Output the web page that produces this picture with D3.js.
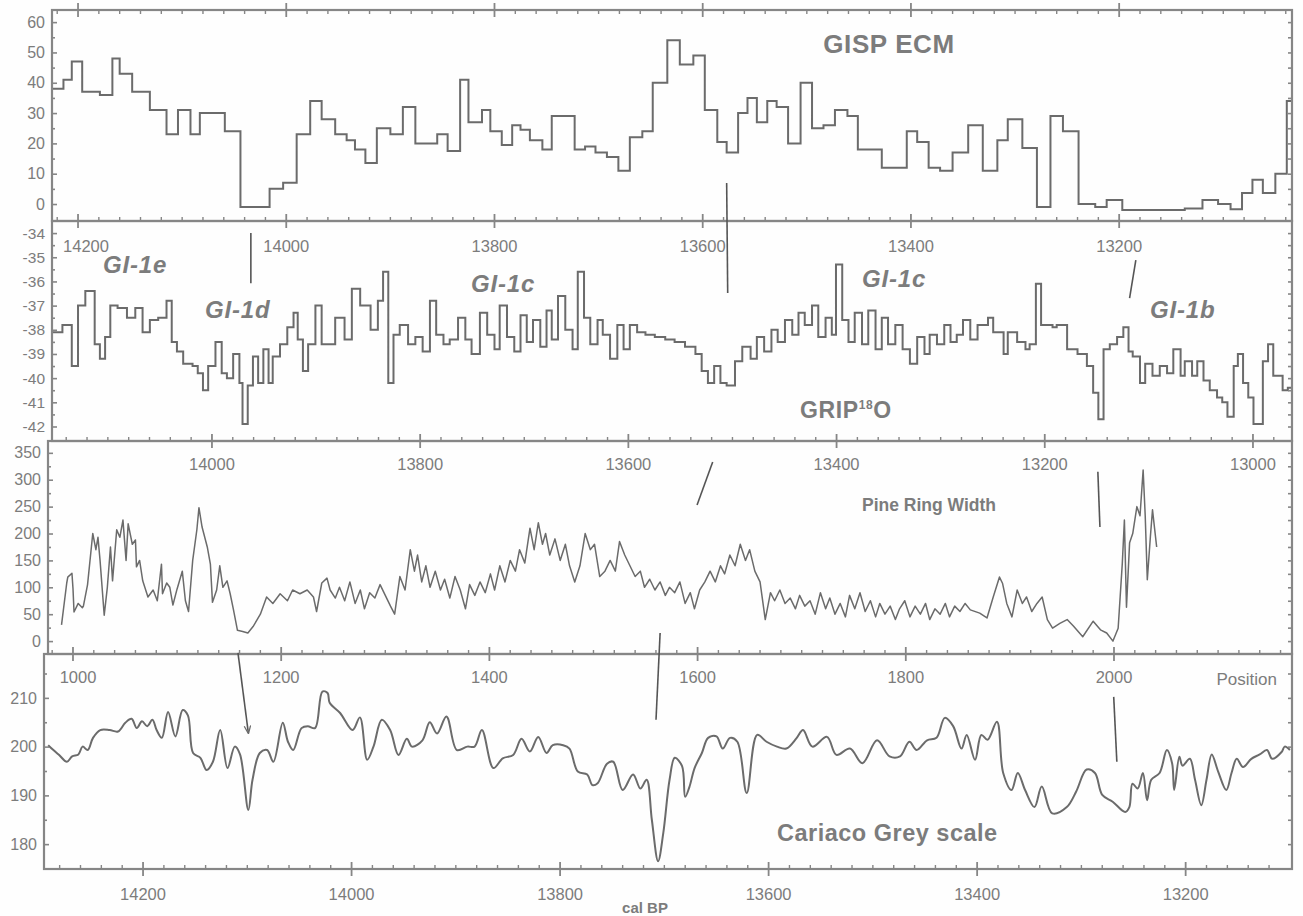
<!DOCTYPE html>
<html><head><meta charset="utf-8">
<script src="https://cdn.jsdelivr.net/npm/d3@7"></script>
<style>body{margin:0;background:#fff}svg{display:block}</style>
</head><body>
<svg id="c" width="1303" height="916"></svg>
<script>
// ---------------- DATA ----------------
// GISP ECM (step starts: cal BP year, value)
const ecmSteps = [[14225,38],[14214,41],[14206,47],[14196,37],[14179,36],[14167,48],[14160,43],[14148,37],[14131,31],[14115,23],[14104,31],[14092,23],[14083,30],[14059,24],[14044,-1],[14016,5],[14003,7],[13990,23],[13977,34],[13966,28],[13953,23],[13942,21],[13934,18],[13924,13.5],[13913,25],[13900,23],[13888,32],[13876,20],[13855,23],[13845,17.5],[13833,41],[13825,27],[13812,31],[13804,24],[13793,19.5],[13783,26],[13775,24.5],[13766,21],[13754,18],[13745,29],[13723,18],[13713,19],[13703,17],[13692,15.5],[13681,11],[13670,22],[13658,24],[13648,40],[13634,54],[13622,46],[13609,49],[13598,31],[13586,20.5],[13577,17],[13566,30],[13557,35],[13548,27],[13538,34],[13529,32],[13518,20],[13506,40],[13495,25],[13484,26],[13473,31],[13461,29],[13451,18],[13428,12],[13404,24],[13394,20.5],[13383,12],[13372,11],[13360,17],[13345,26],[13331,11],[13317,21],[13307,28],[13293,18.5],[13279,-1],[13266,29],[13254,24],[13239,0],[13223,-1],[13212,1.3],[13197,-2],[13137,-1.5],[13120,1.3],[13105,0],[13093,-1.7],[13082,3.6],[13072,8],[13062,3.6],[13050,10],[13039,34]];
// GRIP d18O (step starts: cal BP year, permil)
const gripSteps = [[14225,-38.1],[14215,-37.8],[14206,-39.5],[14200,-37],[14193,-36.4],[14184,-38.6],[14179,-39.2],[14174,-38.3],[14169,-37],[14162,-37.1],[14153,-37.5],[14145,-37.1],[14138,-38.1],[14131,-37.6],[14123,-37.5],[14115,-36.8],[14110,-38.5],[14105,-38.9],[14099,-39.4],[14090,-39.5],[14085,-39.8],[14080,-40.5],[14075,-39.5],[14068,-38.5],[14062,-39.8],[14057,-40],[14051,-39],[14045,-40.2],[14042,-41.9],[14037,-40.3],[14032,-39.1],[14027,-40.2],[14022,-38.8],[14017,-40.2],[14013,-39.1],[14006,-38.6],[13999,-37.9],[13993,-37.3],[13989,-38.4],[13984,-39.7],[13979,-38.6],[13972,-37],[13966,-38.6],[13953,-37.5],[13944,-38.4],[13937,-36.3],[13929,-37],[13919,-38],[13912,-36.8],[13907,-35.6],[13902,-40.2],[13897,-38.2],[13891,-37.8],[13883,-38.6],[13876,-38.3],[13869,-38.9],[13862,-36.8],[13856,-38.2],[13849,-38.6],[13843,-38.4],[13835,-37.5],[13828,-38.4],[13822,-39],[13814,-37.3],[13807,-38.2],[13800,-38.8],[13795,-37],[13788,-38.3],[13781,-38.9],[13775,-37.4],[13769,-38.5],[13763,-37.6],[13756,-38.7],[13750,-37.2],[13745,-38.4],[13739,-36.6],[13732,-38],[13725,-38.8],[13720,-35.6],[13714,-37.5],[13708,-38.6],[13701,-37.6],[13696,-38.2],[13689,-39.2],[13682,-37.8],[13676,-38.8],[13670,-37.8],[13663,-38.1],[13655,-38.2],[13646,-38.3],[13636,-38.4],[13627,-38.5],[13617,-38.7],[13607,-39],[13601,-39.7],[13595,-40.2],[13589,-39.5],[13583,-40.2],[13577,-40.3],[13569,-39.3],[13562,-38.7],[13554,-39.2],[13548,-38.3],[13541,-38.9],[13534,-38],[13528,-38.5],[13521,-37.6],[13514,-38.2],[13508,-37.3],[13502,-37.8],[13495,-37],[13489,-38.3],[13482,-37.5],[13476,-38.2],[13472,-35.3],[13466,-37.6],[13460,-38.5],[13454,-37.3],[13447,-38.6],[13441,-37.2],[13434,-38.8],[13428,-37.5],[13422,-38.6],[13415,-37.8],[13408,-38.8],[13401,-39.4],[13394,-38.3],[13387,-39],[13382,-38.2],[13375,-38.6],[13368,-37.8],[13362,-38.5],[13356,-38.2],[13350,-37.6],[13343,-38.4],[13336,-37.8],[13326,-37.5],[13321,-38.1],[13311,-39],[13307,-38.1],[13298,-38.5],[13290,-38.8],[13286,-38.6],[13280,-36.1],[13275,-37.8],[13264,-37.9],[13260,-37.8],[13250,-38.8],[13240,-39],[13231,-39.5],[13225,-40.6],[13220,-41.7],[13215,-38.8],[13209,-38.6],[13202,-38.3],[13196,-37.9],[13191,-38.9],[13187,-39.1],[13180,-40.2],[13175,-39.4],[13168,-39.9],[13161,-39.5],[13154,-39.8],[13148,-38.8],[13141,-39.9],[13137,-39.3],[13130,-39.9],[13125,-39.3],[13119,-40.1],[13113,-40.5],[13106,-40.8],[13101,-41],[13096,-41.6],[13090,-39.5],[13086,-39],[13081,-40.2],[13076,-40.8],[13071,-41.9],[13062,-39.3],[13057,-38.6],[13052,-39.9],[13043,-40.5],[13038,-40.4]];
// Pine ring width (position, width)
const pineRing = [[989,30],[994,108],[995,119],[999,126],[1000,98],[1001,54],[1005,70],[1009,62],[1010,65],[1014,105],[1019,200],[1022,170],[1024,193],[1026,150],[1030,48],[1033,100],[1036,175],[1038,112],[1042,207],[1045,193],[1048,225],[1051,150],[1053,218],[1057,180],[1060,188],[1061,138],[1064,150],[1067,112],[1072,82],[1077,95],[1081,75],[1085,143],[1086,88],[1090,108],[1093,100],[1096,67],[1100,97],[1105,130],[1108,75],[1111,55],[1115,150],[1119,207],[1121,248],[1124,212],[1129,175],[1132,143],[1134,72],[1138,95],[1141,140],[1144,100],[1148,112],[1151,88],[1154,60],[1158,20],[1163,18],[1168,15],[1173,27],[1180,50],[1186,82],[1192,70],[1199,88],[1206,75],[1211,95],[1218,88],[1225,95],[1231,82],[1234,55],[1239,108],[1244,117],[1247,95],[1252,80],[1256,100],[1261,75],[1266,110],[1271,70],[1276,95],[1280,60],[1285,90],[1290,80],[1295,105],[1300,85],[1305,65],[1309,50],[1314,120],[1319,95],[1324,170],[1328,130],[1331,160],[1335,110],[1339,140],[1343,100],[1348,130],[1353,95],[1357,115],[1362,80],[1367,120],[1372,95],[1377,60],[1381,105],[1386,85],[1391,110],[1396,90],[1401,125],[1405,95],[1410,140],[1415,110],[1420,150],[1425,130],[1429,170],[1434,145],[1439,210],[1443,170],[1447,220],[1451,180],[1454,200],[1458,160],[1463,190],[1468,150],[1473,180],[1477,140],[1482,110],[1487,140],[1492,200],[1497,170],[1501,180],[1506,120],[1511,130],[1516,150],[1521,130],[1525,185],[1530,160],[1535,140],[1540,120],[1545,130],[1549,100],[1554,115],[1559,95],[1564,110],[1569,85],[1573,100],[1578,90],[1583,110],[1588,70],[1593,90],[1597,60],[1602,95],[1607,110],[1612,130],[1617,110],[1622,140],[1626,125],[1631,160],[1636,140],[1641,180],[1646,150],[1650,170],[1655,130],[1660,110],[1665,40],[1670,90],[1674,75],[1679,95],[1684,70],[1689,80],[1694,60],[1698,85],[1703,65],[1708,75],[1713,50],[1718,90],[1723,60],[1727,80],[1732,50],[1737,70],[1742,45],[1746,85],[1751,60],[1756,90],[1761,55],[1766,75],[1771,45],[1775,70],[1780,50],[1785,65],[1790,40],[1794,60],[1799,75],[1804,45],[1809,65],[1814,50],[1819,70],[1823,40],[1828,60],[1833,50],[1838,70],[1842,45],[1847,65],[1852,55],[1857,70],[1862,58],[1871,52],[1878,43],[1884,82],[1890,119],[1893,107],[1897,70],[1902,45],[1907,95],[1912,70],[1916,82],[1921,55],[1926,70],[1931,82],[1936,40],[1941,24],[1948,33],[1955,40],[1961,28],[1970,8],[1980,37],[1987,21],[1993,15],[1999,0],[2004,24],[2008,145],[2010,225],[2012,63],[2015,183],[2018,200],[2022,250],[2025,233],[2028,318],[2030,233],[2032,114],[2035,195],[2037,244],[2041,175]];
// Cariaco grey scale (cal BP year, grey)
const cariacoGrey = [[14291,200.3],[14286,199.3],[14281,198.4],[14273,196.9],[14268,198],[14262,198.4],[14258,200],[14253,199.3],[14248,201.8],[14241,203.4],[14232,203.4],[14224,203.1],[14217,204.9],[14211,205.7],[14206,203.8],[14201,205.2],[14196,204.2],[14191,205.5],[14187,203.4],[14182,201.8],[14176,207.1],[14169,202.1],[14162,207.5],[14157,206.4],[14152,198.7],[14145,197.7],[14139,195.2],[14133,196.9],[14126,203.4],[14119,195.6],[14112,200],[14107,198.4],[14099,187],[14095,193.2],[14088,198.7],[14081,199.3],[14075,196.9],[14066,204.9],[14061,201],[14056,199.3],[14048,203.8],[14042,204.2],[14035,203.8],[14028,211.3],[14023,211],[14021,209],[14011,206.9],[13999,203.4],[13992,206],[13985,197.3],[13979,200],[13971,205.5],[13963,203.4],[13955,198.3],[13947,201.6],[13942,200],[13932,201.3],[13925,205],[13918,202.7],[13909,206.2],[13899,199.3],[13889,200],[13882,200],[13875,203.4],[13864,195.6],[13855,197.6],[13845,198.3],[13837,201.6],[13829,199],[13821,202],[13813,198.7],[13807,200.3],[13797,200.3],[13791,199.6],[13783,194.9],[13774,194.3],[13769,192.1],[13764,192.5],[13755,196.5],[13749,196.9],[13740,191.1],[13730,194.3],[13723,191.4],[13717,193.2],[13712,185],[13706,176.5],[13701,182.3],[13695,193.2],[13690,197.7],[13683,196],[13680,189.7],[13676,191.7],[13671,195.6],[13664,198.7],[13658,201.8],[13650,202.1],[13644,199.6],[13637,201.8],[13630,201],[13621,190.5],[13611,202.4],[13602,201],[13592,200],[13583,199.6],[13573,201.8],[13567,203.4],[13558,200],[13544,202],[13535,198.3],[13522,199.6],[13510,196.6],[13496,201.3],[13484,198],[13474,198],[13465,201],[13458,199.3],[13448,201.3],[13439,201.8],[13431,205.9],[13423,204.2],[13415,199.6],[13410,202.4],[13402,197.3],[13396,202.4],[13390,201.4],[13381,205.1],[13375,194.6],[13367,191.1],[13361,194.6],[13354,191.1],[13345,187.6],[13338,191.8],[13328,186.3],[13314,187.6],[13305,190.8],[13295,195.3],[13287,194.6],[13280,190.1],[13270,188.7],[13258,186.6],[13254,187.6],[13251,192.4],[13246,191.4],[13241,194.6],[13237,189],[13233,193.2],[13225,194.6],[13218,199.3],[13213,196.6],[13211,191.1],[13206,197.9],[13203,196.1],[13196,197.5],[13191,193.2],[13185,188],[13180,193.2],[13175,198.4],[13169,195],[13161,191.1],[13156,194.6],[13151,197.5],[13145,195.8],[13137,197.5],[13129,198.4],[13122,199.3],[13117,197.5],[13108,198.9],[13105,200],[13100,199.3]];

// tick values
const ecmTicks = [0,10,20,30,40,50,60];
const gripTicks = [-42,-41,-40,-39,-38,-37,-36,-35,-34];
const pineTicks = [0,50,100,150,200,250,300,350];
const greyTicks = [180,190,200,210];
const calLabels12 = [14200,14000,13800,13600,13400,13200];
const calLabels3 = [14000,13800,13600,13400,13200,13000];
const posLabels = [1000,1200,1400,1600,1800,2000];
const calLabels4 = [14200,14000,13800,13600,13400,13200];

// annotation lines: [scale key, x value, y value]
const annotations = [
  {a:["p2",14034,-34.0], b:["p2",14034,-36.07]},
  {a:["p1",13577,6.9], b:["p2",13576,-36.48]},
  {a:["p2",13184,-35.12], b:["p2",13190,-36.69]},
  {a:["p3c",13519,333], b:["p3c",13534,253]},
  {a:["p3c",13149,315], b:["p3c",13147,212]},
  {a:["p3p",1158.5,-22], b:["p4",14099,202.8], arrow:true},
  {a:["p3p",1564,15], b:["p4",13708,205.5]},
  {a:["p4",13269,210.2], b:["p4",13266,196.9]}
];

// ---------------- LAYOUT ----------------
const INK = "#6b6b6b", FRAME = "#868686", TXT = "#7c7c7c";
const FONT = "'Liberation Sans', Arial, sans-serif";
const svg = d3.select("#c");
svg.append("rect").attr("width",1303).attr("height",916).attr("fill","#fefefe");

const P1 = {l:52, r:1292, t:10, b:221};
const P2 = {l:52, r:1292, t:221, b:441};
const P3 = {l:48, r:1292, t:441, b:654};
const P4 = {l:44, r:1292, t:654, b:869};

const x12 = d3.scaleLinear().domain([14225,13034]).range([P1.l,P1.r]);
const y1 = d3.scaleLinear().domain([-5.6,64]).range([P1.b,P1.t]);
const y2 = d3.scaleLinear().domain([-42.6,-33.5]).range([P2.b,P2.t]);
const x3c = d3.scaleLinear().domain([14157.5,12962.5]).range([P3.l,P3.r]);
const x3p = d3.scaleLinear().domain([976,2171]).range([P3.l,P3.r]);
const y3 = d3.scaleLinear().domain([-24,372]).range([P3.b,P3.t]);
const x4 = d3.scaleLinear().domain([14295,13098]).range([P4.l,P4.r]);
const y4 = d3.scaleLinear().domain([174.9,219]).range([P4.b,P4.t]);

const S = {p1:[x12,y1], p2:[x12,y2], p3c:[x3c,y3], p3p:[x3p,y3], p4:[x4,y4]};

const defs = svg.append("defs");
[P1,P2,P3,P4].forEach((p,i)=>{
  defs.append("clipPath").attr("id","clip"+i).append("rect")
    .attr("x",p.l+1).attr("y",p.t+1).attr("width",p.r-p.l-2).attr("height",p.b-p.t-2);
});
defs.append("marker").attr("id","arr").attr("viewBox","0 0 10 10").attr("refX",9).attr("refY",5)
  .attr("markerWidth",5).attr("markerHeight",5).attr("orient","auto")
  .append("path").attr("d","M0,1L10,5L0,9").attr("fill","none").attr("stroke",INK).attr("stroke-width",1.6);

// ---------------- DATA LINES ----------------
function stepLine(steps, endX, xs, ys, clip){
  const pts = steps.concat([[endX, steps[steps.length-1][1]]]);
  svg.append("path").datum(pts)
    .attr("clip-path","url(#clip"+clip+")")
    .attr("d", d3.line().x(d=>xs(d[0])).y(d=>ys(d[1])).curve(d3.curveStepAfter))
    .attr("fill","none").attr("stroke",INK).attr("stroke-width",2).attr("stroke-linejoin","miter");
}
stepLine(ecmSteps, 13030, x12, y1, 0);
stepLine(gripSteps, 13030, x12, y2, 1);

svg.append("path").datum(pineRing).attr("clip-path","url(#clip2)")
  .attr("d", d3.line().x(d=>x3p(d[0])).y(d=>y3(d[1])))
  .attr("fill","none").attr("stroke",INK).attr("stroke-width",1.5).attr("stroke-linejoin","round");

svg.append("path").datum(cariacoGrey).attr("clip-path","url(#clip3)")
  .attr("d", d3.line().x(d=>x4(d[0])).y(d=>y4(d[1])).curve(d3.curveCatmullRom.alpha(0.5)))
  .attr("fill","none").attr("stroke",INK).attr("stroke-width",2).attr("stroke-linejoin","round");

// ---------------- FRAMES & AXES ----------------
[P1,P2,P3,P4].forEach(p=>{
  svg.append("rect").attr("x",p.l).attr("y",p.t).attr("width",p.r-p.l).attr("height",p.b-p.t)
    .attr("fill","none").attr("stroke",FRAME).attr("stroke-width",2.2);
});

function xTickRow(scale, y, dir, pl, pr){
  const [a,b] = scale.domain(); const lo=Math.min(a,b), hi=Math.max(a,b);
  const vals = d3.range(Math.ceil(lo/20)*20, hi, 20).filter(v=>{const px=scale(v);return px>pl+3&&px<pr-3;});
  svg.append("g").selectAll("line").data(vals).join("line")
    .attr("x1",d=>scale(d)).attr("x2",d=>scale(d))
    .attr("y1",d=> d%200===0 ? y-7 : y)
    .attr("y2",d=> d%200===0 ? y+7 : y+dir*4)
    .attr("stroke",FRAME).attr("stroke-width",d=> d%200===0 ? 1.8 : 1.4);
}
xTickRow(x12, P1.t, 1, P1.l, P1.r);
xTickRow(x12, P1.b, -1, P1.l, P1.r);
xTickRow(x3c, P2.b, -1, P3.l, P3.r);
xTickRow(x3p, P3.b, -1, P3.l, P3.r);
xTickRow(x4, P4.b, -1, P4.l, P4.r);

function yAxes(p, ys, majors, minorStep, fs){
  const [lo,hi] = ys.domain();
  const minors = d3.range(Math.ceil(lo/minorStep)*minorStep, hi, minorStep)
    .filter(v=>!majors.includes(v) && ys(v)>p.t+3 && ys(v)<p.b-3);
  const gl = svg.append("g").attr("transform",`translate(${p.l},0)`)
    .call(d3.axisLeft(ys).tickValues(majors).tickSize(-5).tickPadding(7).tickFormat(d=>String(d)));
  const gm = svg.append("g").attr("transform",`translate(${p.l},0)`)
    .call(d3.axisLeft(ys).tickValues(minors).tickSize(-3).tickFormat(""));
  const gr = svg.append("g").attr("transform",`translate(${p.r},0)`)
    .call(d3.axisRight(ys).tickValues(majors.concat(minors).filter(v=>ys(v)>p.t+3&&ys(v)<p.b-3)).tickSize(-4).tickFormat(""));
  [gl,gm,gr].forEach(g=>{
    g.select(".domain").remove();
    g.selectAll("line").attr("stroke",FRAME).attr("stroke-width",1.6);
    g.selectAll("text").attr("fill",TXT).style("font-family",FONT).style("font-size",fs+"px");
  });
}
yAxes(P1, y1, ecmTicks, 5, 16);
yAxes(P2, y2, gripTicks, 0.5, 15.5);
yAxes(P3, y3, pineTicks, 25, 16);
yAxes(P4, y4, greyTicks, 5, 16);

function xLabels(vals, scale, y, pl){
  svg.append("g").selectAll("text").data(vals).join("text")
    .attr("x",d=>Math.max(scale(d), pl+34)).attr("y",y)
    .attr("text-anchor","middle").attr("fill",TXT)
    .style("font-family",FONT).style("font-size","16.5px")
    .text(d=>d);
}
xLabels(calLabels12, x12, 252, P2.l);
xLabels(calLabels3, x3c, 470, P3.l);
xLabels(posLabels, x3p, 683, P4.l);
xLabels(calLabels4, x4, 900, P4.l);

// ---------------- ANNOTATIONS ----------------
function pt(s){ const [xs,ys]=S[s[0]]; return [xs(s[1]), ys(s[2])]; }
svg.append("g").selectAll("line").data(annotations).join("line")
  .attr("x1",d=>pt(d.a)[0]).attr("y1",d=>pt(d.a)[1])
  .attr("x2",d=>pt(d.b)[0]).attr("y2",d=>pt(d.b)[1])
  .attr("stroke","#555").attr("stroke-width",1.6)
  .attr("marker-end",d=>d.arrow?"url(#arr)":null);

// ---------------- TEXTS ----------------
function label(txt, x, y, size, opts={}){
  return svg.append("text").attr("x",x).attr("y",y).attr("fill",TXT)
    .attr("text-anchor",opts.anchor||"start")
    .style("font-family",FONT).style("font-size",size+"px")
    .style("letter-spacing",(opts.ls||0)+"px")
    .style("font-weight",opts.weight||"bold").style("font-style",opts.italic?"italic":"normal")
    .text(txt);
}
label("GISP ECM", 889, 53, 26, {anchor:"middle", ls:0.6});
label("GI-1e", 103, 273, 24, {italic:true, ls:0.8});
label("GI-1d", 205, 318, 24, {italic:true, ls:0.8});
label("GI-1c", 471, 292, 24, {italic:true, ls:0.8});
label("GI-1c", 862, 287, 24, {italic:true, ls:0.8});
label("GI-1b", 1150, 318, 24, {italic:true, ls:0.8});
const grip = label("GRIP", 800, 418, 23, {ls:0.6});
grip.append("tspan").attr("dy",-9).style("font-size","12px").text("18");
grip.append("tspan").attr("dy",9).text("O");
label("Pine Ring Width", 862, 511, 17.5);
label("Position", 1277, 685, 17, {anchor:"end", weight:"normal"});
label("Cariaco Grey scale", 777, 841, 23.5, {ls:0.5});
label("cal BP", 645, 913, 15, {anchor:"middle", weight:"bold"});
</script>
</body></html>
